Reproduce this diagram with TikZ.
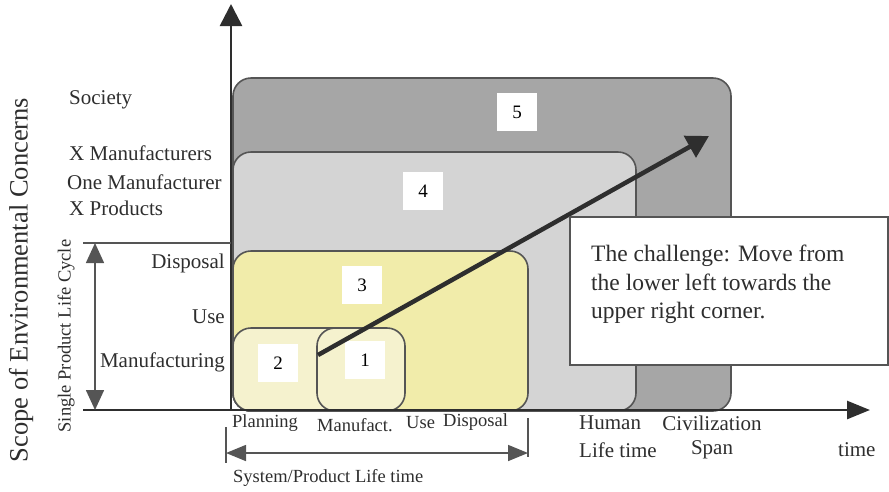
\documentclass[tikz,border=0pt]{standalone}
\usepackage{fontspec}
\setmainfont{Liberation Serif}
\usetikzlibrary{arrows.meta}
\definecolor{boxfive}{HTML}{A6A6A6}
\definecolor{boxfour}{HTML}{D4D4D4}
\definecolor{boxthree}{HTML}{F1ECAA}
\definecolor{boxtwo}{HTML}{F5F2CE}
\definecolor{edge}{HTML}{555555}
\definecolor{ink}{HTML}{2E2E2E}
\tikzset{
  area/.style={draw=edge, line width=1.6pt, rounded corners=18pt},
  numlabel/.style={fill=white, minimum width=40pt, minimum height=38pt, inner sep=0pt, font=\fontsize{19}{22}\selectfont},
  lab/.style={inner sep=0pt, font=\fontsize{21}{25}\selectfont, text=ink},
  smalllab/.style={inner sep=0pt, font=\fontsize{18.5}{22}\selectfont, text=ink},
  axisline/.style={draw=ink, line width=2.6pt},
  thinline/.style={draw=edge, line width=1.6pt},
}
\begin{document}
\begin{tikzpicture}[x=1pt,y=-1pt]
\useasboundingbox (0,0) rectangle (889,491);
% coordinates
\coordinate (origin) at (231,410);
\coordinate (ytop) at (231,4);
\coordinate (xleft) at (83,410);
\coordinate (xtip) at (870,410);
\coordinate (cycletopL) at (83,243);
\coordinate (cycletopR) at (231,243);
\coordinate (cyc1) at (95,243);
\coordinate (cyc2) at (95,410);
\coordinate (tickLa) at (226,427);
\coordinate (tickLb) at (226,463);
\coordinate (tickRa) at (528,418);
\coordinate (tickRb) at (528,457);
\coordinate (spanL) at (226,453);
\coordinate (spanR) at (528,453);
\coordinate (arrowstart) at (318,355);
\coordinate (arrowend) at (709,136);
% areas
\filldraw[area, fill=boxfive] (233,78) rectangle (731,411);
\filldraw[area, fill=boxfour] (233,152) rectangle (636,411);
\filldraw[area, fill=boxthree] (233,251) rectangle (528,411);
\filldraw[area, fill=boxtwo] (233,328) rectangle (360,411);
\filldraw[area, fill=boxtwo] (317,328) rectangle (405,411);
% number labels
\node[numlabel] (n5) at (517,112) {5};
\node[numlabel] (n4) at (423,191) {4};
\node[numlabel] (n3) at (362,285) {3};
\node[numlabel] (n2) at (278,363) {2};
\node[numlabel] (n1) at (365,360) {1};
% axes
\draw[axisline, -{Triangle[length=22pt,width=22pt]}] (origin) -- (ytop);
\draw[axisline, -{Triangle[length=23pt,width=18pt]}] (xleft) -- (xtip);
\draw[thinline] (cycletopL) -- (cycletopR);
\draw[thinline, {Triangle[length=20pt,width=18pt]}-{Triangle[length=20pt,width=18pt]}] (cyc1) -- (cyc2);
\draw[thinline] (tickLa) -- (tickLb);
\draw[thinline] (tickRa) -- (tickRb);
\draw[thinline, {Triangle[length=20pt,width=16pt]}-{Triangle[length=20pt,width=16pt]}] (spanL) -- (spanR);
% big arrow
\draw[draw=ink, line width=4.5pt, -{Triangle[length=22pt,width=24pt]}] (arrowstart) -- (arrowend);
% challenge box
\node[draw=edge, line width=1.3pt, fill=white, minimum width=318pt, minimum height=148pt, inner sep=0pt] (challenge) at (729,291) {};
\node[anchor=north west, inner sep=0pt, align=left, text=ink, font=\fontsize{23.5}{28.5}\selectfont] (chtext) at (591,245) {The challenge: Move from\\the lower left towards the\\upper right corner.};
% vertical labels
\node[rotate=90, inner sep=0pt, text=ink, font=\fontsize{26.5}{30}\selectfont] (scope) at (21,280) {Scope of Environmental Concerns};
\node[rotate=90, smalllab] (single) at (66,336) {Single Product Life Cycle};
% left labels
\node[lab, anchor=west] (society) at (69,100) {Society};
\node[lab, anchor=west] (xman) at (69,153) {X Manufacturers};
\node[lab, anchor=west] (oneman) at (67,182) {One Manufacturer};
\node[lab, anchor=west] (xprod) at (69,208) {X Products};
\node[lab, anchor=east] (disp) at (225,263) {Disposal};
\node[lab, anchor=east] (use) at (225,317) {Use};
\node[lab, anchor=east] (manuf) at (225,362) {Manufacturing};
% bottom labels
\node[smalllab, anchor=west] (plan) at (232,423) {Planning};
\node[smalllab, anchor=west] (manfact) at (317,425) {Manufact.};
\node[smalllab, anchor=west] (usex) at (406,423) {Use};
\node[smalllab, anchor=west] (dispx) at (443,422) {Disposal};
\node[smalllab, anchor=west] (system) at (233,478) {System/Product Life time};
\node[lab, anchor=west] (human) at (579,423) {Human};
\node[lab, anchor=west] (lifetime) at (579,450) {Life time};
\node[lab] (civ) at (712,423) {Civilization};
\node[lab] (span) at (712,450) {Span};
\node[lab, anchor=west] (time) at (838,450) {time};
\end{tikzpicture}
\end{document}
